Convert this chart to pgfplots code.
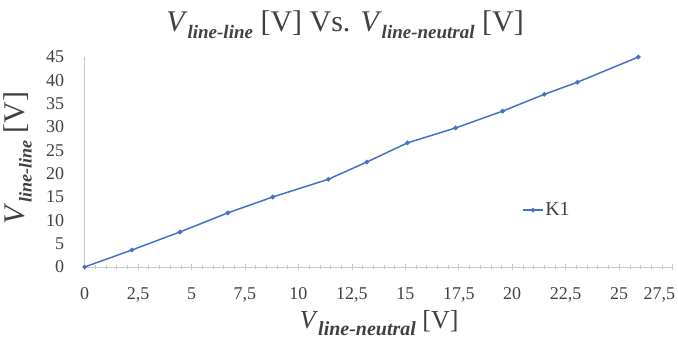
\documentclass[border=0pt]{standalone}
\usepackage{fontspec}
\setmainfont{Liberation Serif}
\usepackage{pgfplots}
\pgfplotsset{compat=1.18}
\definecolor{exblue}{RGB}{68,114,196}
\definecolor{axgray}{RGB}{200,200,200}
\definecolor{txt}{RGB}{64,64,64}
% #1 subscript text, #2 main size, #3 subscript size
\newcommand{\Vs}[3]{{\fontsize{#2}{#2}\selectfont\textit{V}\raisebox{-0.25em}{\fontsize{#3}{#3}\selectfont\textbf{\textit{#1}}}}}
\begin{document}
\begin{tikzpicture}
\path[use as bounding box] (-84.6pt,-75pt) rectangle (593.4pt,267pt);
\begin{axis}[
  at={(0pt,0pt)}, anchor=origin,
  scale only axis, width=588pt, height=210pt,
  xmin=0, xmax=27.5, ymin=0, ymax=45,
  axis x line=bottom, axis y line=left,
  axis line style={draw=axgray, line width=0.8pt, -},
  xtick={0,2.5,...,27.5}, ytick={0,5,...,45},
  xticklabels={0,{2,5},5,{7,5},10,{12,5},15,{17,5},20,{22,5},25,{\rlap{\hspace{-29pt}27,5}}},
  minor x tick num=4,
  tick align=center,
  x tick style={draw=axgray, line width=0.6pt},
  y tick style={draw=none},
  major tick length=6pt, minor tick length=4pt,
  /pgf/number format/assume math mode=true,
  ticklabel style={text=txt},
  xticklabel style={font=\rmfamily\fontsize{18}{18}\selectfont, anchor=base, yshift=-30pt},
  yticklabel style={font=\rmfamily\fontsize{18}{18}\selectfont, xshift=-14pt},
  title={\Vs{line-line}{30pt}{19pt}\fontsize{30pt}{30pt}\selectfont{} [V] Vs. \Vs{line-neutral}{30pt}{19pt} [V]},
  title style={at={(rel axis cs:0.443,1.095)}, anchor=base, text=txt},
  xlabel={\Vs{line-neutral}{26pt}{20pt}\fontsize{26pt}{26pt}\selectfont{} [V]},
  xlabel style={at={(rel axis cs:0.501,-0.295)}, anchor=base, text=txt},
  ylabel={\Vs{line-line}{30pt}{18pt}\fontsize{30pt}{30pt}\selectfont{} [V]},
  ylabel style={at={(rel axis cs:-0.103,0.519)}, anchor=base, text=txt},
  legend style={draw=none, fill=none, at={(rel axis cs:0.744,0.271)}, anchor=west, font=\rmfamily\fontsize{20}{20}\selectfont, inner sep=0pt, nodes={inner sep=1.5pt, text=txt}},
  legend cell align=left,
  legend image code/.code={\draw[#1, mark repeat=2, mark phase=2] plot coordinates {(0pt,0pt)(10pt,0pt)(20pt,0pt)};},
]
\addplot[color=exblue, line width=1.5pt, mark=*, mark size=1.5pt, mark options={fill=exblue}] coordinates {
(0,0) (2.21,3.64) (4.46,7.5) (6.70,11.6) (8.80,15.0) (11.4,18.8) (13.2,22.5) (15.1,26.6) (17.35,29.8) (19.55,33.4) (21.5,37.0) (23.05,39.6) (25.9,45.0)
};
\addlegendentry{K1}
\end{axis}
\end{tikzpicture}
\end{document}
